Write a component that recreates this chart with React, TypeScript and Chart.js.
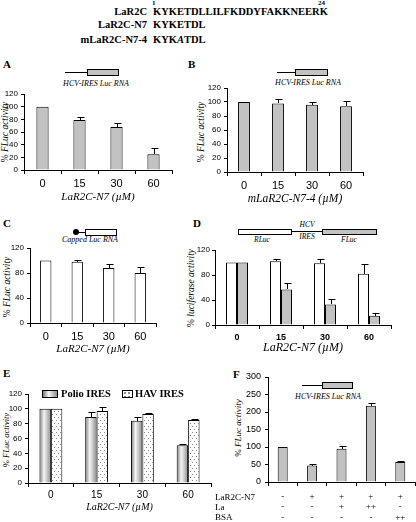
import React, { useEffect, useRef } from "react";
import { Chart, registerables } from "chart.js";

Chart.register(...registerables);

// ---------- data ----------
const concLabels = ["0", "15", "30", "60"];
const aValues = [100, 79, 68, 25];
const aErrors = [0, 4, 6, 9];
const bValues = [100, 98, 96, 94];
const bErrors = [0, 6, 4, 7];
const cValues = [100, 98, 88, 80];
const cErrors = [0, 3, 6, 10];
const dRlucValues = [100, 102, 99, 82];
const dRlucErrors = [0, 3, 6, 16];
const dFlucValues = [100, 57, 33, 15];
const dFlucErrors = [0, 10, 8, 4];
const ePolioValues = [100, 89, 84, 51];
const ePolioErrors = [0, 7, 5, 2];
const eHavValues = [100, 97, 93, 85];
const eHavErrors = [0, 6, 1, 1];
const fValues = [100, 47, 95, 218, 57];
const fErrors = [0, 5, 7, 7, 2];
const fLaR2C = ["-", "+", "+", "+", "+"];
const fLa = ["-", "-", "+", "++", "-"];
const fBSA = ["-", "-", "-", "-", "++"];
const fRowNames = ["LaR2C-N7", "La", "BSA"];
const pctTicks = [0, 20, 40, 60, 80, 100, 120];
const fTicks = [0, 50, 100, 150, 200, 250, 300];

const SERIF = "'Liberation Serif', 'Times New Roman', serif";
const SANS = "'Liberation Sans', Arial, sans-serif";
const GRAY = "#c2c2c2";

const E_CAT = 0.5;
const E_BAR = 1.0;

const errorBarPlugin = {
  id: "errbars",
  afterDatasetsDraw(chart: any) {
    const ctx = chart.ctx;
    const ys = chart.scales.y;
    chart.data.datasets.forEach((ds: any, di: number) => {
      const errs = ds.errs;
      if (!errs) return;
      const meta = chart.getDatasetMeta(di);
      meta.data.forEach((bar: any, i: number) => {
        const e = errs[i];
        if (!e) return;
        const v = ds.data[i];
        const yb = Math.round(ys.getPixelForValue(v));
        const yt = Math.round(ys.getPixelForValue(v + e)) + 0.5;
        const x = Math.round(bar.x) + 0.5;
        ctx.save();
        ctx.strokeStyle = "#000";
        ctx.lineWidth = 1;
        ctx.beginPath();
        ctx.moveTo(x, yb);
        ctx.lineTo(x, yt);
        ctx.moveTo(x - 3, yt);
        ctx.lineTo(x + 4, yt);
        ctx.stroke();
        ctx.restore();
      });
    });
  },
};

type PanelCfg = {
  left: number; top: number; width: number; height: number;
  yw: number; xh: number; pt: number; pr: number;
  labels: any[];
  datasets: () => any[];
  yMax: number; yStep: number; yTicks: number[];
  yFontSize: number; yPad: number;
  xFont: any; xPad: number;
  title?: string; titleSize?: number;
};

function BarPanel({ cfg }: { cfg: PanelCfg }) {
  const ref = useRef<HTMLCanvasElement>(null);
  useEffect(() => {
    const chart = new Chart(ref.current as HTMLCanvasElement, {
      type: "bar",
      data: { labels: cfg.labels, datasets: cfg.datasets() },
      options: {
        animation: false,
        responsive: false,
        maintainAspectRatio: false,
        devicePixelRatio: 1,
        layout: { padding: { top: cfg.pt, right: cfg.pr, left: 0, bottom: 0 } },
        plugins: { legend: { display: false }, tooltip: { enabled: false } },
        scales: {
          x: {
            grid: { display: true, drawOnChartArea: false, drawTicks: true, tickLength: 4, color: "#000", offset: true },
            border: { display: true, color: "#000", width: 1 },
            ticks: { color: "#000", font: cfg.xFont, padding: cfg.xPad, maxRotation: 0, autoSkip: false },
            title: cfg.title
              ? { display: true, text: cfg.title, color: "#000", font: { family: SERIF, style: "italic", size: cfg.titleSize }, padding: { top: 0, bottom: 0 } }
              : { display: false },
            afterFit: (s: any) => { s.height = cfg.xh; },
          } as any,
          y: {
            min: 0,
            max: cfg.yMax,
            afterBuildTicks: (s: any) => { s.ticks = cfg.yTicks.map((v) => ({ value: v })); },
            ticks: { stepSize: cfg.yStep, color: "#000", font: { family: SANS, size: cfg.yFontSize }, padding: cfg.yPad },
            grid: { drawOnChartArea: false, drawTicks: true, tickLength: 3, color: "#000" },
            border: { display: true, color: "#000", width: 1 },
            afterFit: (s: any) => { s.width = cfg.yw; },
          } as any,
        },
      },
      plugins: [errorBarPlugin],
    });
    return () => chart.destroy();
  }, []);
  return (
    <canvas
      ref={ref}
      width={cfg.width}
      height={cfg.height}
      style={{ position: "absolute", left: cfg.left, top: cfg.top, width: cfg.width, height: cfg.height }}
    />
  );
}

const singleBar = (values: number[], errs: number[], color: string, bp: number) => () => [
  { data: values, errs, backgroundColor: color, borderColor: "#000", borderWidth: 1, barPercentage: bp, categoryPercentage: 1 },
];

function makeDots() {
  const cv = document.createElement("canvas");
  cv.width = 4; cv.height = 6;
  const g = cv.getContext("2d") as CanvasRenderingContext2D;
  g.fillStyle = "#fff"; g.fillRect(0, 0, 4, 6);
  g.fillStyle = "#8a8a8a";
  g.fillRect(0, 0, 1, 1); g.fillRect(2, 3, 1, 1);
  return g.createPattern(cv, "repeat");
}

const polioFill = (c: any) => {
  const chart = c.chart;
  const xs = chart.scales && chart.scales.x;
  if (c.type !== "data" || !xs || !chart.chartArea) return GRAY;
  const n = chart.data.labels.length;
  const catW = (xs.right - xs.left) / n;
  const groupW = catW * E_CAT;
  const barW = (groupW / 2) * E_BAR;
  const cx = xs.getPixelForValue(c.dataIndex) - groupW / 4;
  const g = chart.ctx.createLinearGradient(cx - barW / 2, 0, cx + barW / 2, 0);
  g.addColorStop(0, "#7a7a7a");
  g.addColorStop(0.4, "#f6f6f6");
  g.addColorStop(1, "#8c8c8c");
  return g;
};

const xFontBig = { family: SANS, size: 11 };

const panels: PanelCfg[] = [
  {
    left: 0, top: 82, width: 180, height: 122, yw: 24, xh: 34, pt: 12, pr: 8,
    labels: concLabels, datasets: singleBar(aValues, aErrors, GRAY, 0.33),
    yMax: 120, yStep: 20, yTicks: pctTicks, yFontSize: 8, yPad: 3,
    xFont: xFontBig, xPad: 3, title: "LaR2C-N7 (\u00b5M)", titleSize: 11,
  },
  {
    left: 205, top: 76, width: 170, height: 130, yw: 22, xh: 34, pt: 12, pr: 12,
    labels: concLabels, datasets: singleBar(bValues, bErrors, GRAY, 0.35),
    yMax: 120, yStep: 20, yTicks: pctTicks, yFontSize: 8, yPad: 3,
    xFont: xFontBig, xPad: 3, title: "mLaR2C-N7-4 (\u00b5M)", titleSize: 11.5,
  },
  {
    left: 0, top: 238, width: 165, height: 118, yw: 30, xh: 33, pt: 10, pr: 9,
    labels: concLabels, datasets: singleBar(cValues, cErrors, "#fff", 0.36),
    yMax: 120, yStep: 20, yTicks: pctTicks, yFontSize: 8, yPad: 3,
    xFont: xFontBig, xPad: 3, title: "LaR2C-N7 (\u00b5M)", titleSize: 11,
  },
  {
    left: 195, top: 240, width: 205, height: 115, yw: 20, xh: 30, pt: 10, pr: 9,
    labels: concLabels,
    datasets: () => [
      { data: dRlucValues, errs: dRlucErrors, backgroundColor: "#fff", borderColor: "#000", borderWidth: 1, barPercentage: 1, categoryPercentage: 0.5 },
      { data: dFlucValues, errs: dFlucErrors, backgroundColor: GRAY, borderColor: "#000", borderWidth: 1, barPercentage: 1, categoryPercentage: 0.5 },
    ],
    yMax: 120, yStep: 20, yTicks: pctTicks, yFontSize: 8, yPad: 2,
    xFont: { family: SANS, size: 9, weight: "bold" }, xPad: 3, title: "LaR2C-N7 (\u00b5M)", titleSize: 12,
  },
  {
    left: 0, top: 384, width: 216, height: 129, yw: 28, xh: 30, pt: 10, pr: 5,
    labels: concLabels,
    datasets: () => [
      { data: ePolioValues, errs: ePolioErrors, backgroundColor: polioFill, borderColor: "#000", borderWidth: 1, barPercentage: E_BAR, categoryPercentage: E_CAT },
      { data: eHavValues, errs: eHavErrors, backgroundColor: makeDots(), borderColor: "#000", borderWidth: 1, barPercentage: E_BAR, categoryPercentage: E_CAT },
    ],
    yMax: 120, yStep: 20, yTicks: pctTicks, yFontSize: 8, yPad: 3,
    xFont: { family: SANS, size: 10 }, xPad: 2, title: "LaR2C-N7 (\u00b5M)", titleSize: 10,
  },
  {
    left: 240, top: 367, width: 176, height: 155, yw: 28, xh: 40, pt: 10, pr: 1,
    labels: fLaR2C.map((v, i) => [v, fLa[i], fBSA[i]]),
    datasets: singleBar(fValues, fErrors, GRAY, 0.34),
    yMax: 300, yStep: 50, yTicks: fTicks, yFontSize: 9, yPad: 4,
    xFont: { family: SERIF, size: 9, lineHeight: 1.12 }, xPad: 6,
  },
];

// ---------- html helpers ----------
type TProps = { x: number; y: number; size: number; align?: "left" | "center" | "right"; italic?: boolean; bold?: boolean; font?: string; children: any };
const T = ({ x, y, size, align = "left", italic, bold, font = SERIF, children }: TProps) => (
  <div
    style={{
      position: "absolute", left: x, top: y, fontSize: size, lineHeight: 1, whiteSpace: "nowrap",
      fontFamily: font, fontStyle: italic ? "italic" : "normal", fontWeight: bold ? "bold" : "normal", color: "#000",
      transform: align === "center" ? "translate(-50%,-50%)" : align === "right" ? "translate(-100%,-50%)" : "translate(0,-50%)",
    }}
  >
    {children}
  </div>
);
const VLabel = ({ x, y, size, children }: { x: number; y: number; size: number; children: any }) => (
  <div
    style={{
      position: "absolute", left: x, top: y, fontSize: size, lineHeight: 1, whiteSpace: "nowrap", fontFamily: SERIF, color: "#000",
      transform: "translate(-50%,-50%) rotate(-90deg)",
    }}
  >
    {children}
  </div>
);
const Box = ({ l, t, w, h, bg }: { l: number; t: number; w: number; h: number; bg: string }) => (
  <div style={{ position: "absolute", left: l, top: t, width: w, height: h, background: bg, border: "1px solid #000", boxSizing: "border-box" }} />
);
const HLine = ({ l, t, w }: { l: number; t: number; w: number }) => (
  <div style={{ position: "absolute", left: l, top: t, width: w, height: 1, background: "#000" }} />
);
const FLucLabel = () => (
  <span>% <i>FLuc activity</i></span>
);

export default function App() {
  return (
    <div style={{ position: "absolute", left: 0, top: 0, width: 416, height: 522, background: "#fff", overflow: "hidden" }}>
      {/* header */}
      <T x={147} y={12} size={10.5} bold align="right">LaR2C</T>
      <T x={153} y={12} size={10.5} bold>KYKETDLLILFKDDYFAKKNEERK</T>
      <T x={152} y={3} size={7} bold>1</T>
      <T x={318} y={3} size={7} bold>24</T>
      <T x={147} y={25} size={10.5} bold align="right">LaR2C-N7</T>
      <T x={153} y={25} size={10.5} bold>KYKETDL</T>
      <T x={147} y={40} size={10.5} bold align="right">mLaR2C-N7-4</T>
      <T x={153} y={40} size={10.5} bold>KYK<i>A</i>TDL</T>

      {/* panel letters */}
      <T x={3} y={64} size={11} bold>A</T>
      <T x={188} y={64} size={11} bold>B</T>
      <T x={3} y={223} size={11} bold>C</T>
      <T x={193} y={223} size={11} bold>D</T>
      <T x={3} y={373} size={11} bold>E</T>
      <T x={233} y={374} size={11} bold>F</T>

      {/* y titles */}
      <VLabel x={6} y={132} size={9.5}><FLucLabel /></VLabel>
      <VLabel x={202} y={132} size={9.5}><FLucLabel /></VLabel>
      <VLabel x={8} y={287} size={9.5}><FLucLabel /></VLabel>
      <VLabel x={192} y={288} size={9.5}>% <i>luciferase activity</i></VLabel>
      <VLabel x={6} y={440} size={8.5}><FLucLabel /></VLabel>
      <VLabel x={238} y={428} size={9}><FLucLabel /></VLabel>

      {/* construct diagrams */}
      <HLine l={65} t={72} w={22} />
      <Box l={87} t={69} w={32} h={7} bg={GRAY} />
      <T x={96} y={84} size={8} italic align="center">HCV-IRES Luc RNA</T>

      <HLine l={277} t={72} w={18} />
      <Box l={295} t={69} w={33} h={7} bg={GRAY} />
      <T x={308} y={83} size={8} italic align="center">HCV-IRES Luc RNA</T>

      <div style={{ position: "absolute", left: 73, top: 229, width: 6, height: 6, borderRadius: 3, background: "#000" }} />
      <HLine l={78} t={232} w={7} />
      <Box l={85} t={229} w={32} h={7} bg="#fff" />
      <T x={90} y={240} size={8} italic align="center">Capped Luc RNA</T>

      <Box l={238} t={229} w={54} h={6} bg="#fff" />
      <HLine l={291} t={231} w={31} />
      <Box l={322} t={229} w={55} h={6} bg={GRAY} />
      <T x={307} y={225} size={7.5} italic align="center">HCV</T>
      <T x={307} y={237} size={7.5} italic align="center">IRES</T>
      <T x={262} y={240} size={7.5} italic align="center">RLuc</T>
      <T x={349} y={240} size={7.5} italic align="center">FLuc</T>

      <HLine l={302} t={385} w={20} />
      <Box l={322} t={382} w={31} h={7} bg={GRAY} />
      <T x={328} y={397} size={8} italic align="center">HCV-IRES Luc RNA</T>

      {/* charts */}
      {panels.map((p, i) => (
        <BarPanel key={i} cfg={p} />
      ))}

      {/* E legend */}
      <div style={{ position: "absolute", left: 42, top: 390, width: 16, height: 8, border: "1px solid #000", boxSizing: "border-box", background: "linear-gradient(90deg, #7a7a7a, #f6f6f6 40%, #8c8c8c)" }} />
      <T x={61} y={394} size={10.5} bold>Polio IRES</T>
      <div style={{ position: "absolute", left: 122, top: 390, width: 11, height: 8, border: "1px solid #000", boxSizing: "border-box", background: "#fff radial-gradient(#8a8a8a 35%, transparent 40%) 0 0 / 4px 4px" }} />
      <T x={135} y={394} size={10.5} bold>HAV IRES</T>

      {/* F row names */}
      {fRowNames.map((n, i) => (
        <T key={n} x={215} y={497 + i * 10} size={9}>{n}</T>
      ))}
    </div>
  );
}
